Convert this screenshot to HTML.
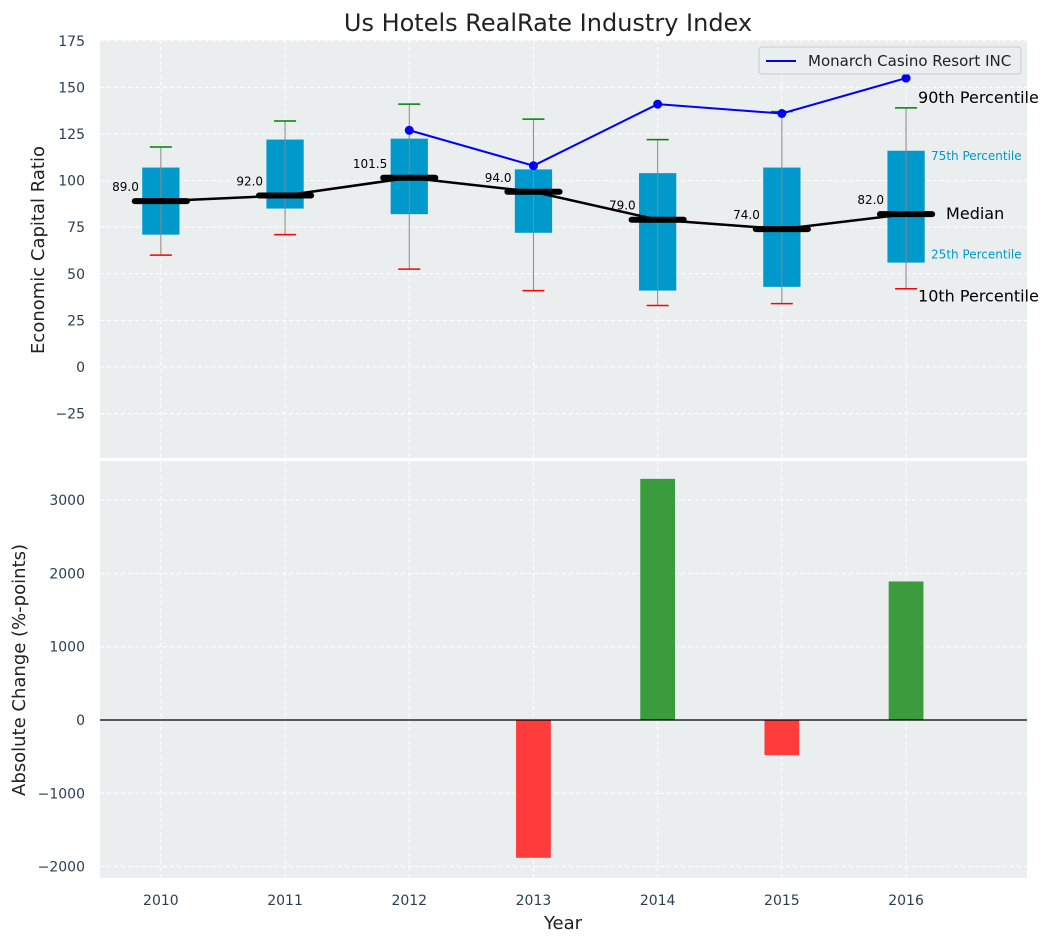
<!DOCTYPE html>
<html><head><meta charset="utf-8"><style>
body{margin:0;background:#fff;}
svg{font-family:"DejaVu Sans","Liberation Sans",sans-serif;}
</style></head><body>
<svg id="chart" width="1053" height="942" xmlns="http://www.w3.org/2000/svg">
<text x="548" y="31" font-size="24" text-anchor="middle" fill="#222">Us Hotels RealRate Industry Index</text>
<rect x="100" y="40" width="927" height="418" fill="#eaeeee"/>
<rect x="100" y="461" width="927" height="417" fill="#eaeeee"/>
<g id="topg"></g><g id="botg"></g>
<text x="44" y="250" font-size="18" fill="#222" text-anchor="middle" transform="rotate(-90 44 250)">Economic Capital Ratio</text>
<text x="25" y="670" font-size="18" fill="#222" text-anchor="middle" transform="rotate(-90 25 670)">Absolute Change (%-points)</text>
<text x="563" y="929" font-size="18" fill="#222" text-anchor="middle">Year</text>
<g>
<rect x="759" y="47" width="262" height="27" fill="#eaeeee" stroke="#ccc" rx="3"/>
<line x1="766" y1="61" x2="796" y2="61" stroke="#0000ff" stroke-width="2"/>
<text x="808" y="66" font-size="15" fill="#222">Monarch Casino Resort INC</text>
</g>
</svg>
<script>
const years=[2010,2011,2012,2013,2014,2015,2016];
const p10=[60,71,52.5,41,33,34,42];
const p25=[71,85,82,72,41,43,56];
const med=[89,92,101.5,94,79,74,82];
const p75=[107,122,122.5,106,104,107,116];
const p90=[118,132,141,133,122,137,139];
const compYears=[2012,2013,2014,2015,2016];
const compVals=[127,108,141,136,155];
const barYears=[2013,2014,2015,2016];
const barVals=[-1880,3290,-480,1890];
const topTicks=[-25,0,25,50,75,100,125,150,175];
const botTicks=[-2000,-1000,0,1000,2000,3000];

const NS="http://www.w3.org/2000/svg";
const X=v=>100+(v-2009.51)*124.2;
const YT=v=>367-v*1.864;
const YB=v=>720-v*0.0733;
function el(p,t,a,txt){const e=document.createElementNS(NS,t);for(const k in a)e.setAttribute(k,a[k]);if(txt!==undefined)e.textContent=txt;p.appendChild(e);return e;}
const topG=document.getElementById('topg'),botG=document.getElementById('botg');
topTicks.forEach(t=>{const g=el(topG,'line',{x1:100,x2:1027,y1:YT(t),y2:YT(t),stroke:'#fff','stroke-dasharray':'4,3'});

const l=el(topG,'text',{x:85,y:YT(t)+5,'font-size':14,fill:'#2a3f55','text-anchor':'end'},t<0?'\u2212'+(-t):t);
});
botTicks.forEach(t=>{const g=el(botG,'line',{x1:100,x2:1027,y1:YB(t),y2:YB(t),stroke:'#fff','stroke-dasharray':'4,3'});

const l=el(botG,'text',{x:85,y:YB(t)+5,'font-size':14,fill:'#2a3f55','text-anchor':'end'},t<0?'\u2212'+(-t):t);
});
years.forEach(y=>{[[topG,40,458],[botG,461,878]].forEach(([p,a,b])=>{const g=el(p,'line',{x1:X(y),x2:X(y),y1:a,y2:b,stroke:'#fff','stroke-dasharray':'4,3'});
});
const l=el(botG,'text',{x:X(y),y:905,'font-size':14,fill:'#2a3f55','text-anchor':'middle'},y);
});
const bw=0.3*124.2,mw=0.42*124.2,cw=22;
years.forEach((y,i)=>{const cx=X(y);
const w=el(topG,'line',{x1:cx,x2:cx,y1:YT(p10[i]),y2:YT(p90[i]),stroke:'#888','stroke-width':1});

const b=el(topG,'rect',{x:cx-bw/2,y:YT(p75[i]),width:bw,height:YT(p25[i])-YT(p75[i]),fill:'#0099cc'});

const w2=el(topG,'line',{x1:cx,x2:cx,y1:YT(p25[i]),y2:YT(p75[i]),stroke:'#888','stroke-width':1});

const c1=el(topG,'line',{x1:cx-cw/2,x2:cx+cw/2,y1:YT(p90[i]),y2:YT(p90[i]),stroke:'green','stroke-width':1.5});

const c2=el(topG,'line',{x1:cx-cw/2,x2:cx+cw/2,y1:YT(p10[i]),y2:YT(p10[i]),stroke:'red','stroke-width':1.5});

});
const mp=el(topG,'polyline',{points:years.map((y,i)=>X(y)+','+YT(med[i])).join(' '),fill:'none',stroke:'#000','stroke-width':2.5});

years.forEach((y,i)=>{const cx=X(y);
const m=el(topG,'line',{x1:cx-mw/2,x2:cx+mw/2,y1:YT(med[i]),y2:YT(med[i]),stroke:'#000','stroke-width':6,'stroke-linecap':'round'});

const t=el(topG,'text',{x:cx-22,y:YT(med[i])-10,'font-size':12,fill:'#000','text-anchor':'end'},med[i].toFixed(1));
});
const cp=el(topG,'polyline',{points:compYears.map((y,i)=>X(y)+','+YT(compVals[i])).join(' '),fill:'none',stroke:'#0000ff','stroke-width':2});

compYears.forEach((y,i)=>{const c=el(topG,'circle',{cx:X(y),cy:YT(compVals[i]),r:4.5,fill:'#0000ff'});
});
const L=years.length-1,ax=X(years[L]);
[[p90[L],'90th Percentile',12,16,'#000',-5],[p75[L],'75th Percentile',25,12,'#0099cc',9],[med[L],'Median',40,16,'#000',5],[p25[L],'25th Percentile',25,12,'#0099cc',-4],[p10[L],'10th Percentile',12,16,'#000',13]].forEach(a=>{
const t=el(topG,'text',{x:ax+a[2],y:YT(a[0])+a[5],'font-size':a[3],fill:a[4]},a[1]);
});
const brw=0.28*124.2;
barYears.forEach((y,i)=>{const v=barVals[i];const y0=YB(Math.max(v,0)),y1=YB(Math.min(v,0));
const r=el(botG,'rect',{x:X(y)-brw/2,y:y0,width:brw,height:y1-y0,fill:v>=0?'#3a9c3d':'#ff3c3c'});
});
const z=el(botG,'line',{x1:100,x2:1027,y1:YB(0),y2:YB(0),stroke:'#000','stroke-width':1.2});

</script>
</body></html>
